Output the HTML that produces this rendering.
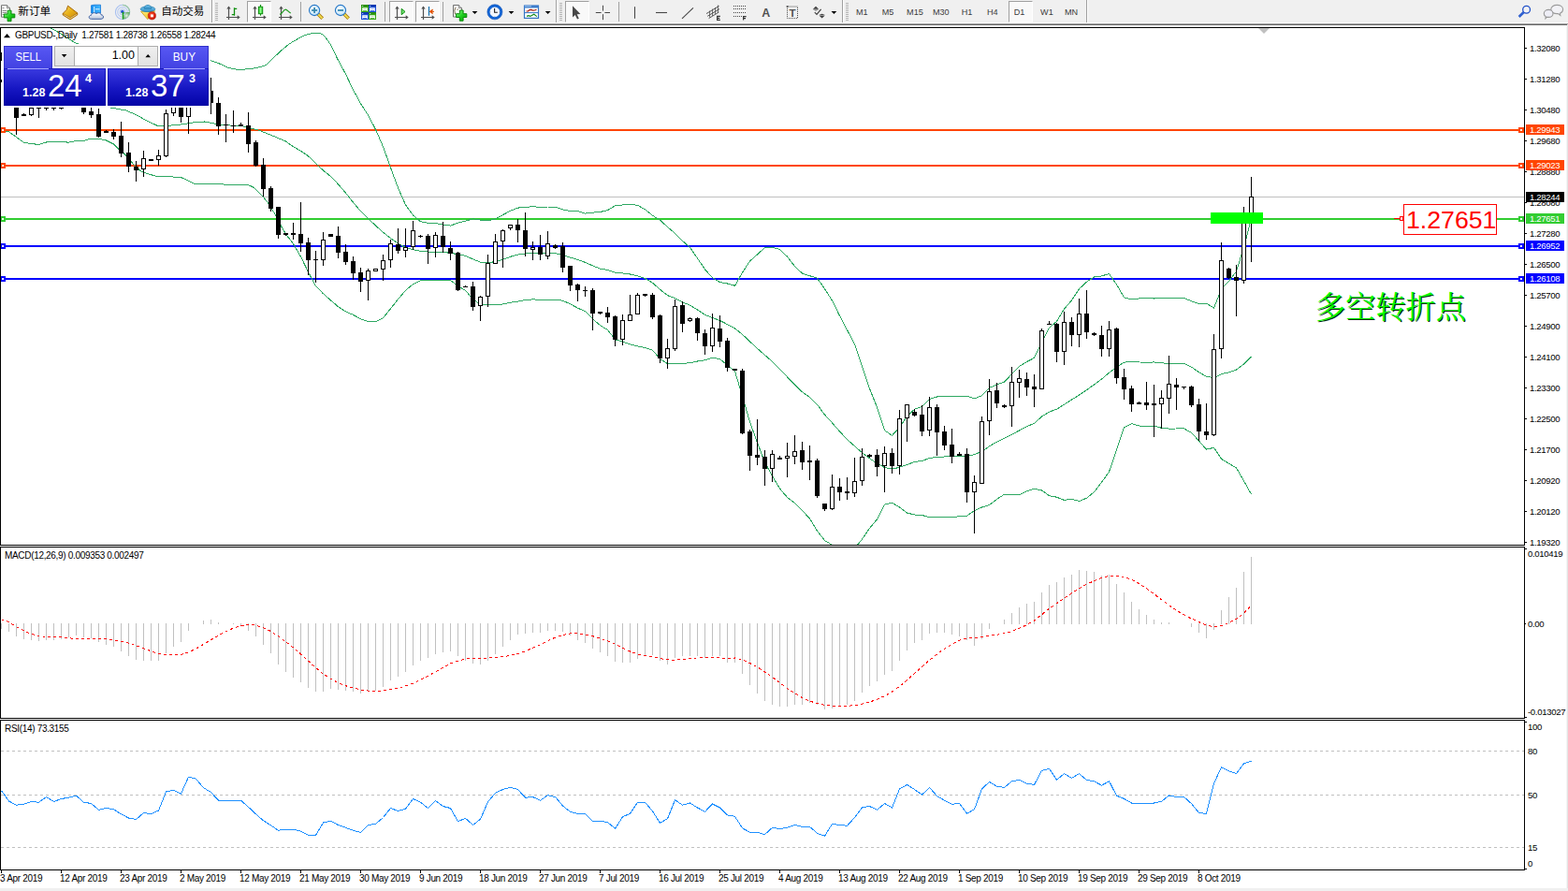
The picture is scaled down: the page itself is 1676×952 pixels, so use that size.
<!DOCTYPE html>
<html><head><meta charset="utf-8"><title>GBPUSD Daily</title>
<style>
html,body{margin:0;padding:0;background:#fff;}
body{width:1676px;height:952px;overflow:hidden;position:relative;font-family:"Liberation Sans",sans-serif;}
.abs{position:absolute;}
.t{position:absolute;white-space:nowrap;color:#000;font-size:10px;line-height:12px;letter-spacing:-0.32px}
.ax{position:absolute;white-space:nowrap;color:#000;font-size:9.6px;line-height:11px;left:1635px;letter-spacing:-0.34px}
.tag{position:absolute;left:1631px;width:41px;height:11px;color:#fff;font-size:9.6px;line-height:11px;white-space:nowrap;text-indent:4px;letter-spacing:-0.34px}
.tf{position:absolute;top:7px;font-size:9.1px;line-height:12px;color:#3c3c3c;white-space:nowrap;}
.btn{position:absolute;top:1px;height:21px;width:24px;background:#f9f9f9;border-top:1px solid #a0a0a0;border-left:1px solid #a0a0a0;border-right:1px solid #fff;border-bottom:1px solid #fff;box-sizing:content-box}
.sep{position:absolute;top:2px;width:1px;height:21px;background:#a0a0a0;}
.grip{position:absolute;top:3px;width:3px;height:19px;background:repeating-linear-gradient(to bottom,#b4b4b4 0,#b4b4b4 1px,#f0f0f0 1px,#f0f0f0 2px);}
</style></head><body>

<div class="abs" style="left:0;top:0;width:1676px;height:24px;background:#f0f0f0"></div>
<div class="abs" style="left:0;top:24px;width:1676px;height:1px;background:#fafafa"></div>
<div class="abs" style="left:0;top:25px;width:1676px;height:1px;background:#a0a0a0"></div>
<div class="abs" style="left:0;top:26px;width:1676px;height:1px;background:#696969"></div>
<div class="abs" style="left:1675px;top:26px;width:1px;height:926px;background:#e3e3e3"></div>
<div class="abs" style="left:1674px;top:27px;width:1px;height:925px;background:#f4f4f4"></div>
<div class="abs" style="left:0;top:949px;width:1676px;height:3px;background:#f0f0f0"></div>
<div class="btn" style="left:264px"></div>
<div class="btn" style="left:416px"></div>
<div class="btn" style="left:444px"></div>
<div class="btn" style="left:604px"></div>
<div class="btn" style="left:1078px"></div>
<div class="sep" style="left:321px"></div>
<div class="sep" style="left:411px"></div>
<div class="sep" style="left:473px"></div>
<div class="sep" style="left:661px"></div>
<div class="sep" style="left:226px;top:0;height:24px"></div>
<div class="sep" style="left:594px;top:0;height:24px"></div>
<div class="sep" style="left:900px;top:0;height:24px"></div>
<div class="sep" style="left:1161px;top:0;height:24px"></div>
<div class="sep" style="left:227px;background:#fff;top:0;height:24px"></div>
<div class="sep" style="left:595px;background:#fff;top:0;height:24px"></div>
<div class="sep" style="left:901px;background:#fff;top:0;height:24px"></div>
<div class="sep" style="left:1162px;background:#fff;top:0;height:24px"></div>
<div class="grip" style="left:230px"></div>
<div class="grip" style="left:598px"></div>
<div class="grip" style="left:904px"></div>
<div class="tf" style="left:915px">M1</div>
<div class="tf" style="left:942.7px">M5</div>
<div class="tf" style="left:969.1px">M15</div>
<div class="tf" style="left:996.9px">M30</div>
<div class="tf" style="left:1027.8px">H1</div>
<div class="tf" style="left:1055px">H4</div>
<div class="tf" style="left:1083.8px">D1</div>
<div class="tf" style="left:1112.1px">W1</div>
<div class="tf" style="left:1138px">MN</div>
<svg class="abs" style="left:0;top:0" width="1676" height="25" viewBox="0 0 1676 25">
<defs>
<linearGradient id="gp" x1="0" y1="0" x2="1" y2="1"><stop offset="0" stop-color="#9dff9d"/><stop offset="0.5" stop-color="#1fd11f"/><stop offset="1" stop-color="#089a08"/></linearGradient>
<linearGradient id="gold" x1="0" y1="0" x2="1" y2="1"><stop offset="0" stop-color="#f8d860"/><stop offset="0.5" stop-color="#e8b018"/><stop offset="1" stop-color="#c88810"/></linearGradient>
<linearGradient id="cloud" x1="0" y1="0" x2="0" y2="1"><stop offset="0" stop-color="#ffffff"/><stop offset="1" stop-color="#b8c6dc"/></linearGradient>
<linearGradient id="bbox" x1="0" y1="0" x2="1" y2="0"><stop offset="0" stop-color="#1890f0"/><stop offset="1" stop-color="#40b8ff"/></linearGradient>
<radialGradient id="lens" cx="0.4" cy="0.35" r="0.7"><stop offset="0" stop-color="#ffffff"/><stop offset="1" stop-color="#b8e0f8"/></radialGradient>
<linearGradient id="hat" x1="0" y1="0" x2="0" y2="1"><stop offset="0" stop-color="#7cc8f0"/><stop offset="1" stop-color="#3090c8"/></linearGradient>
<linearGradient id="face" x1="0" y1="0" x2="1" y2="1"><stop offset="0" stop-color="#fff080"/><stop offset="1" stop-color="#e8b010"/></linearGradient>
<radialGradient id="red" cx="0.4" cy="0.35" r="0.7"><stop offset="0" stop-color="#ff5030"/><stop offset="1" stop-color="#c81000"/></radialGradient>
<radialGradient id="sig" cx="0.5" cy="0.5" r="0.5"><stop offset="0" stop-color="#e8f4e8"/><stop offset="1" stop-color="#58a858"/></radialGradient>
<linearGradient id="cg" x1="0" y1="0" x2="1" y2="0"><stop offset="0" stop-color="#20c820"/><stop offset="0.5" stop-color="#90ff90"/><stop offset="1" stop-color="#20c820"/></linearGradient>
</defs>
<path d="M1.5 5.7H7.5L10.5 8.7V18.2H1.5Z" fill="#fff" stroke="#707070" stroke-width="1" stroke-linejoin="round"/><path d="M7.5 5.7V8.7H10.5" fill="#ddd" stroke="#707070" stroke-width="0.8"/>
<path d="M2.5 8.5H4.5M2.5 11.5H7M2.5 13.5H7M2.5 15.5H5" stroke="#909090" stroke-width="1"/>
<polygon points="8.1,11.2 12.0,11.2 12.0,15.0 15.8,15.0 15.8,18.9 12.0,18.9 12.0,22.7 8.1,22.7 8.1,18.9 4.3,18.9 4.3,15.0 8.1,15.0" fill="url(#gp)" stroke="#0a8a0a" stroke-width="1"/>
<text x="19.2" y="15.6" font-family="'Liberation Sans','Noto Sans CJK SC',sans-serif" font-size="11.7" fill="#000">新订单</text>
<path d="M67.2 14.6L75 19.2L82.8 14.2V15.8L75 20.9L67.2 16Z" fill="#d8a018" stroke="#a86808" stroke-width="0.9" stroke-linejoin="round"/>
<path d="M72.6 6.2L82.8 14L75 19L67.2 14.4L71.2 10.4Z" fill="url(#gold)" stroke="#a86808" stroke-width="1" stroke-linejoin="round"/>
<path d="M68.4 15.6L75 19.6L81.8 15.4" fill="none" stroke="#f4e4a0" stroke-width="0.8"/>
<path d="M97.5 5.8L100.5 5.2H107.5V14H97.5Z" fill="url(#bbox)" stroke="#1878d8" stroke-width="0.8"/>
<path d="M100.7 7V14M102 9.8H106.5" stroke="#e0f4ff" stroke-width="1" fill="none"/>
<path d="M97.5 20.3C94.5 20.3 94.3 16.6 97.5 16.3C97.8 13.6 101.5 12.8 103 14.9C104.6 12.9 108 13.8 108 15.8C111.2 15.8 111.4 20.3 108.2 20.3Z" fill="url(#cloud)" stroke="#4060a0" stroke-width="1"/>
<circle cx="131" cy="12.9" r="7.6" fill="none" stroke="#a8c0f0" stroke-width="1.1"/>
<circle cx="131" cy="12.9" r="5.3" fill="none" stroke="#b8ccf4" stroke-width="1.1"/>
<path d="M131.3 12.9L138.9 12.9A7.6 7.6 0 0 1 131.3 20.5Z" fill="url(#sig)" opacity="0.9"/>
<path d="M131 5.3A7.6 7.6 0 0 1 138.6 12.9" fill="none" stroke="#9cc8a8" stroke-width="1.2"/>
<circle cx="131" cy="12.9" r="3.1" fill="none" stroke="#b0c8f0" stroke-width="1"/>
<circle cx="130.8" cy="12.6" r="1.8" fill="#2858d0"/>
<path d="M131.4 13V20.6" stroke="#18a018" stroke-width="1.3"/>
<path d="M150.6 12.3L165.6 11.8L157.8 20.6Z" fill="url(#face)" stroke="#c89810" stroke-width="0.8" stroke-linejoin="round"/>
<ellipse cx="158" cy="9.7" rx="7.8" ry="2.9" fill="url(#hat)" stroke="#2880b0" stroke-width="0.8"/>
<path d="M154 9.2C154 4.2 162 4.2 162 9.2Z" fill="url(#hat)" stroke="#2880b0" stroke-width="0.8"/>
<circle cx="162.4" cy="16.8" r="4.1" fill="url(#red)" stroke="#b01000" stroke-width="0.6"/>
<rect x="161" y="15.4" width="2.9" height="2.9" fill="#fff"/>
<text x="172.2" y="15.6" font-family="'Liberation Sans','Noto Sans CJK SC',sans-serif" font-size="11.5" fill="#000">自动交易</text>
<path d="M244.5 7.2V21M242.0 18.5H255.5" stroke="#505050" stroke-width="1.2" fill="none"/><path d="M242.3 9.6L244.5 6.6L246.7 9.6ZM253.7 16.3L256.7 18.5L253.7 20.7Z" fill="#505050"/>
<path d="M250.5 8.2V16.8M250.5 9.4H253.2M247.8 15.6H250.5" stroke="#109010" stroke-width="1.3" fill="none"/>
<path d="M272.5 7.2V21M270.0 18.5H283.5" stroke="#505050" stroke-width="1.2" fill="none"/><path d="M270.3 9.6L272.5 6.6L274.7 9.6ZM281.7 16.3L284.7 18.5L281.7 20.7Z" fill="#505050"/>
<path d="M278.5 5V16.7" stroke="#109010" stroke-width="1.2"/><rect x="276.4" y="7.3" width="4.3" height="7.4" fill="url(#cg)" stroke="#109010" stroke-width="1"/>
<path d="M300.5 7.2V21M298.0 18.5H311.5" stroke="#505050" stroke-width="1.2" fill="none"/><path d="M298.3 9.6L300.5 6.6L302.7 9.6ZM309.7 16.3L312.7 18.5L309.7 20.7Z" fill="#505050"/>
<path d="M299.2 15.6C302 13.5 303.5 10.2 305.2 10.2C307 10.2 308.5 13.2 310.8 14" stroke="#209a20" stroke-width="1.2" fill="none"/>
<path d="M339.70000000000005 14.8L344.70000000000005 19.8" stroke="#a87808" stroke-width="3.6" stroke-linecap="butt"/><path d="M339.90000000000003 15L344.5 19.6" stroke="#f0dc50" stroke-width="2" stroke-linecap="butt"/><circle cx="336.1" cy="11" r="5.6" fill="url(#lens)" stroke="#2878c8" stroke-width="1.1"/><path d="M333.1 11H339.1" stroke="#3888b0" stroke-width="1.8"/><path d="M336.1 8V14" stroke="#3888b0" stroke-width="1.8"/>
<path d="M367.6 14.8L372.6 19.8" stroke="#a87808" stroke-width="3.6" stroke-linecap="butt"/><path d="M367.8 15L372.4 19.6" stroke="#f0dc50" stroke-width="2" stroke-linecap="butt"/><circle cx="364" cy="11" r="5.6" fill="url(#lens)" stroke="#2878c8" stroke-width="1.1"/><path d="M361 11H367" stroke="#3888b0" stroke-width="1.8"/>
<rect x="386" y="5" width="8" height="8" fill="#38a818"/><rect x="386" y="5" width="8" height="2.2" fill="#2c9010"/><rect x="387.2" y="6" width="1" height="1" fill="#d8e8ff"/><path d="M387.2 8.2H392.8V12H392V11.2H388V12H387.2Z" fill="#fff"/><path d="M388.4 9.7H391.6" stroke="#a0d890" stroke-width="0.8"/>
<rect x="394" y="5" width="8" height="8" fill="#1c50d8"/><rect x="394" y="5" width="8" height="2.2" fill="#1038b0"/><rect x="395.2" y="6" width="1" height="1" fill="#d8e8ff"/><path d="M395.2 8.2H400.8V12H400V11.2H396V12H395.2Z" fill="#fff"/><path d="M396.4 9.7H399.6" stroke="#90a8f0" stroke-width="0.8"/>
<rect x="386" y="13" width="8" height="8" fill="#1c50d8"/><rect x="386" y="13" width="8" height="2.2" fill="#1038b0"/><rect x="387.2" y="14" width="1" height="1" fill="#d8e8ff"/><path d="M387.2 16.2H392.8V20H392V19.2H388V20H387.2Z" fill="#fff"/><path d="M388.4 17.7H391.6" stroke="#90a8f0" stroke-width="0.8"/>
<rect x="394" y="13" width="8" height="8" fill="#38a818"/><rect x="394" y="13" width="8" height="2.2" fill="#2c9010"/><rect x="395.2" y="14" width="1" height="1" fill="#d8e8ff"/><path d="M395.2 16.2H400.8V20H400V19.2H396V20H395.2Z" fill="#fff"/><path d="M396.4 17.7H399.6" stroke="#a0d890" stroke-width="0.8"/>
<path d="M424.5 7.2V21M422.0 18.5H435.5" stroke="#505050" stroke-width="1.2" fill="none"/><path d="M422.3 9.6L424.5 6.6L426.7 9.6ZM433.7 16.3L436.7 18.5L433.7 20.7Z" fill="#505050"/>
<path d="M429.2 9.3L433 12.5L429.2 15.7Z" fill="#70e070" stroke="#109010" stroke-width="1"/>
<path d="M452.5 7.2V21M450.0 18.5H463.5" stroke="#505050" stroke-width="1.2" fill="none"/><path d="M450.3 9.6L452.5 6.6L454.7 9.6ZM461.7 16.3L464.7 18.5L461.7 20.7Z" fill="#505050"/>
<path d="M458.5 7V16.8" stroke="#1070b0" stroke-width="1.2"/>
<path d="M459.5 12.4H464M459.3 12.4L462.4 10.2L461.6 12.4L462.4 14.6Z" stroke="#e05000" stroke-width="1" fill="#e05000"/>
<path d="M484.5 5.5H490.5L493.5 8.5V18.0H484.5Z" fill="#fff" stroke="#707070" stroke-width="1" stroke-linejoin="round"/><path d="M490.5 5.5V8.5H493.5" fill="#ddd" stroke="#707070" stroke-width="0.8"/>
<path d="M487.5 8C485.5 8 486.8 11.5 485.6 11.8C486.8 12.1 485.5 15.6 487.5 15.6" stroke="#605030" stroke-width="0.9" fill="none"/><path d="M488.5 10.5L490 9.8" stroke="#605030" stroke-width="0.8"/>
<polygon points="491.3,11.0 495.1,11.0 495.1,14.7 498.8,14.7 498.8,18.5 495.1,18.5 495.1,22.2 491.3,22.2 491.3,18.5 487.6,18.5 487.6,14.7 491.3,14.7" fill="url(#gp)" stroke="#0a8a0a" stroke-width="1"/>
<path d="M504.6 12H510.4L507.5 15Z" fill="#000"/>
<circle cx="528.9" cy="12.8" r="6.7" fill="#f4f8ff" stroke="#1264d4" stroke-width="2.7"/>
<circle cx="528.9" cy="12.8" r="8.1" fill="none" stroke="#0c4cb0" stroke-width="0.5"/>
<path d="M528.6 9V13.2H531.8" stroke="#202020" stroke-width="1.1" fill="none"/>
<path d="M528.9 7.6v.8M528.9 17.2v.8M523.7 12.8h.8M533.3 12.8h.8M525.3 9.2l.5.5M532.5 9.2l-.5.5M525.3 16.4l.5-.5M532.5 16.4l-.5-.5" stroke="#909090" stroke-width="0.7"/>
<path d="M543.6 12H549.4L546.5 15Z" fill="#000"/>
<rect x="560.5" y="6.2" width="15" height="13.2" fill="#fff" stroke="#3474c4" stroke-width="1.2"/>
<rect x="560" y="5.7" width="16" height="2.8" fill="#3c7ccc"/><rect x="561" y="6.3" width="7" height="0.9" fill="#a8ccf0"/>
<path d="M561 13.6H575" stroke="#3474c4" stroke-width="1"/>
<path d="M562.5 12L564.5 11.8L566 10.6L568 10.4L569.5 11.2L571.5 11L573.5 10.2" stroke="#a81808" stroke-width="1.2" fill="none"/>
<path d="M563 17.4L565 16.6L566.8 17.4L568.8 16.2L570.8 15.2L572.6 16.6L573.8 17.6" stroke="#108818" stroke-width="1.2" fill="none"/>
<path d="M582.7 12H588.5L585.6 15Z" fill="#000"/>
<path d="M612 6.2V18.6L614.8 16L617 20.6L618.8 19.8L616.7 15.3L620.4 15Z" fill="#484848"/>
<path d="M644.5 5.8V11.6M644.5 15.2V21.2M636.8 13.5H642.6M646.4 13.5H652" stroke="#484848" stroke-width="1"/>
<path d="M678.5 7.2V19.8" stroke="#484848" stroke-width="1.1"/>
<path d="M701 13.5H713" stroke="#484848" stroke-width="1.1"/>
<path d="M729 19.8L741 8.3" stroke="#484848" stroke-width="1.1"/>
<path d="M755 14.6L768.6 6.4M756.2 17.3L769 9.6M757.6 19.6L768.4 13" stroke="#484848" stroke-width="0.9" fill="none"/>
<path d="M758.6 11.5V18.5M761.6 9.6V17M764.6 8V15M767.4 5.5V13.6" stroke="#484848" stroke-width="0.8" fill="none"/>
<path d="M769.8 17.4H766.6V21.4H769.8M766.6 19.4H769.2" stroke="#303030" stroke-width="1.1" fill="none"/>
<path d="M784 6.5H797" stroke="#484848" stroke-width="1" stroke-dasharray="1 1"/>
<path d="M784 9.5H797" stroke="#484848" stroke-width="1" stroke-dasharray="1 1"/>
<path d="M784 13.5H797" stroke="#484848" stroke-width="1" stroke-dasharray="1 1"/>
<path d="M784 17.5H793" stroke="#484848" stroke-width="1" stroke-dasharray="1 1"/>
<path d="M797.6 17.6H794.6V21.6M794.6 19.6H797" stroke="#303030" stroke-width="1.1" fill="none"/>
<text x="814.2" y="17.8" font-family="Liberation Sans, sans-serif" font-weight="bold" font-size="12.4" fill="#505050">A</text>
<rect x="841.5" y="7" width="11" height="12.6" fill="none" stroke="#484848" stroke-width="1" stroke-dasharray="1 1"/>
<rect x="840.6" y="6.2" width="2" height="1.4" fill="#484848"/>
<text x="843.6" y="17.8" font-family="Liberation Sans, sans-serif" font-weight="bold" font-size="11.6" fill="#505050">T</text>
<path d="M872 6.8L875.2 9.8H868.8ZM868.8 10.4H875.2L872 11.6Z" fill="#404040"/>
<path d="M878.6 19.6L875.4 16.6H881.8ZM875.4 16H881.8L878.6 14.8Z" fill="#404040"/>
<path d="M870.8 13.2L873 15.4L877.6 9.8" stroke="#404040" stroke-width="1.2" fill="none"/>
<path d="M888.5 12H894.3L891.4 15Z" fill="#000"/>
<circle cx="1631.6" cy="10.3" r="3.9" fill="#f2f2f4" stroke="#2050c8" stroke-width="1.3"/>
<path d="M1628.7 13.1L1623.6 17.9" stroke="#3060d0" stroke-width="2.7" stroke-linecap="butt"/>
<path d="M1664.2 5.4C1668 5.4 1670.6 7.4 1670.6 10C1670.6 12 1669.2 13.6 1667.4 14.2L1667.8 16.4L1665.4 14.6C1660.6 15 1657.8 12.8 1657.8 10C1657.8 7.4 1660.4 5.4 1664.2 5.4Z" fill="#f2f2f6" stroke="#9c9c9c" stroke-width="1.1"/>
<path d="M1655.2 10.4C1658 10.4 1660 12.2 1660 14.4C1660 16.6 1658 18.4 1655.2 18.4C1654.6 18.4 1654 18.3 1653.5 18.2L1652 19.8L1652.2 17.6C1651 16.8 1650.3 15.7 1650.3 14.4C1650.3 12.2 1652.4 10.4 1655.2 10.4Z" fill="#eeeef6" stroke="#989898" stroke-width="1.1"/>
</svg>
<svg class="abs" style="left:0;top:27px" width="1676" height="925" viewBox="0 27 1676 925" shape-rendering="crispEdges">
<rect x="1" y="138" width="1628" height="2" fill="#ff4500"/>
<rect x="1" y="176" width="1628" height="2" fill="#ff4500"/>
<rect x="1" y="210" width="1628" height="1" fill="#c0c0c0"/>
<rect x="1" y="233" width="1628" height="2" fill="#32cd32"/>
<rect x="1" y="262" width="1628" height="2" fill="#0000ff"/>
<rect x="1" y="297" width="1628" height="2" fill="#0000ff"/>
<g clip-path="url(#cpm)"><clipPath id="cpm"><rect x="1" y="30" width="1628" height="552"/></clipPath>
<polyline points="53.8,29.7 60.0,33.0 68.0,38.0 75.0,42.5 81.8,46.5 110.0,54.0 150.0,58.0 190.0,60.5 223.2,64.0 235.3,68.3 243.7,72.5 255.5,74.6 268.9,73.4 279.0,71.4 284.0,69.8 292.0,62.0 300.7,54.0 309.0,47.0 317.4,42.0 326.0,37.5 334.1,35.4 340.0,35.3 344.1,36.4 348.0,40.0 352.5,46.4 356.5,54.0 360.8,63.1 369.5,79.2 377.5,95.9 385.5,110.6 393.5,123.1 401.5,138.3 409.5,156.7 417.5,179.2 425.5,200.7 433.5,218.9 441.5,229.9 449.5,236.7 457.5,238.3 465.5,238.4 473.5,240.2 481.5,241.1 489.5,238.1 497.5,236.2 505.5,233.8 513.5,235.1 521.5,235.9 529.5,233.8 537.5,229.6 545.5,225.3 553.5,222.1 561.5,221.4 569.5,220.7 577.5,221.5 585.5,221.0 593.5,221.0 601.5,224.0 609.5,225.5 617.5,225.6 625.5,228.1 633.5,227.1 641.5,226.5 649.5,224.6 657.5,219.9 665.5,218.9 673.5,218.1 681.5,219.4 689.5,223.7 697.5,230.3 705.5,235.1 713.5,242.6 721.5,249.3 729.5,257.3 737.5,264.5 745.5,276.0 753.5,287.8 761.5,296.7 769.5,301.6 777.5,303.0 785.5,305.3 793.5,291.3 801.5,279.0 809.5,271.9 817.5,264.5 825.5,264.3 833.5,266.3 841.5,274.2 849.5,284.6 857.5,292.1 865.5,294.7 873.5,297.2 881.5,308.6 889.5,321.2 897.5,337.4 905.5,352.6 913.5,367.7 921.5,391.2 929.5,415.3 937.5,435.3 945.5,459.8 953.5,465.3 961.5,456.7 969.5,444.9 977.5,437.3 985.5,434.4 993.5,426.5 1001.5,424.0 1009.5,423.5 1017.5,423.3 1025.5,423.1 1033.5,423.3 1041.5,425.9 1049.5,422.7 1057.5,414.4 1065.5,410.9 1073.5,408.1 1081.5,399.6 1089.5,391.3 1097.5,386.6 1105.5,382.4 1113.5,366.2 1121.5,350.4 1129.5,343.3 1137.5,330.1 1145.5,320.9 1153.5,308.7 1161.5,301.2 1169.5,296.0 1177.5,294.9 1185.5,292.5 1193.5,303.9 1201.5,317.8 1209.5,319.9 1217.5,319.0 1225.5,318.8 1233.5,319.0 1241.5,318.4 1249.5,318.4 1257.5,318.4 1265.5,318.4 1273.5,321.7 1281.5,324.6 1289.5,324.3 1297.5,329.0 1305.5,309.0 1313.5,300.4 1321.5,290.1 1329.5,264.1 1337.5,233.7" fill="none" stroke="#2ea862" stroke-width="1"/>
<polyline points="100.0,112.0 120.2,115.4 134.5,117.9 146.2,123.0 156.3,128.8 168.0,134.2 176.5,134.7 193.3,133.0 206.7,130.9 218.5,130.0 230.3,132.2 238.7,133.5 257.0,134.7 260.0,135.0 276.8,139.2 293.6,146.0 305.5,151.0 313.5,156.8 321.5,161.2 329.5,166.8 337.5,174.6 345.5,182.1 353.5,188.5 361.5,196.8 369.5,206.1 377.5,216.2 385.5,225.7 393.5,233.4 401.5,241.1 409.5,248.2 417.5,254.5 425.5,260.2 433.5,264.6 441.5,266.7 449.5,268.2 457.5,269.0 465.5,269.0 473.5,269.7 481.5,270.2 489.5,271.8 497.5,273.3 505.5,276.9 513.5,280.1 521.5,280.7 529.5,279.6 537.5,277.3 545.5,274.3 553.5,272.1 561.5,271.0 569.5,270.3 577.5,270.9 585.5,270.6 593.5,270.6 601.5,272.6 609.5,275.1 617.5,277.4 625.5,280.4 633.5,283.9 641.5,287.1 649.5,288.5 657.5,291.3 665.5,292.0 673.5,293.0 681.5,294.7 689.5,297.5 697.5,302.2 705.5,309.3 713.5,315.6 721.5,318.7 729.5,322.8 737.5,326.2 745.5,331.0 753.5,336.3 761.5,339.5 769.5,342.5 777.5,346.6 785.5,350.9 793.5,357.3 801.5,364.9 809.5,372.4 817.5,379.3 825.5,386.4 833.5,394.2 841.5,402.8 849.5,411.1 857.5,418.8 865.5,424.4 873.5,432.2 881.5,443.1 889.5,451.8 897.5,461.0 905.5,469.5 913.5,476.7 921.5,483.6 929.5,489.8 937.5,495.1 945.5,499.5 953.5,501.2 961.5,499.3 969.5,496.4 977.5,493.6 985.5,492.4 993.5,489.6 1001.5,488.3 1009.5,488.0 1017.5,487.8 1025.5,487.5 1033.5,487.3 1041.5,485.8 1049.5,482.3 1057.5,476.9 1065.5,472.1 1073.5,468.2 1081.5,464.2 1089.5,460.0 1097.5,455.7 1105.5,452.3 1113.5,445.1 1121.5,440.1 1129.5,437.2 1137.5,432.2 1145.5,427.1 1153.5,422.1 1161.5,416.7 1169.5,410.9 1177.5,405.1 1185.5,398.3 1193.5,392.2 1201.5,387.2 1209.5,386.3 1217.5,387.0 1225.5,387.1 1233.5,387.0 1241.5,387.9 1249.5,388.2 1257.5,388.2 1265.5,388.1 1273.5,392.1 1281.5,397.8 1289.5,402.2 1297.5,403.7 1305.5,399.7 1313.5,397.8 1321.5,395.1 1329.5,389.0 1337.5,380.9" fill="none" stroke="#2ea862" stroke-width="1"/>
<polyline points="1.0,139.5 6.0,140.0 9.5,140.8 17.5,146.5 25.5,152.3 33.5,153.6 41.5,154.4 49.5,152.0 57.5,151.4 65.5,151.4 73.5,152.2 81.5,150.4 89.5,150.3 97.5,148.2 105.5,148.2 113.5,150.0 121.5,154.0 127.7,160.0 134.5,165.8 142.9,175.9 151.3,183.5 166.4,188.2 193.3,189.4 208.4,196.5 238.7,197.0 257.1,197.6 265.0,197.4 271.8,200.6 280.2,209.0 286.9,217.4 293.6,228.3 302.0,244.3 305.5,250.0 313.5,260.6 321.5,274.2 329.5,290.7 337.5,305.6 345.5,313.8 353.5,320.9 361.5,327.7 369.5,332.9 377.5,336.4 385.5,340.8 393.5,343.7 401.5,343.8 409.5,339.7 417.5,329.8 425.5,319.7 433.5,310.2 441.5,303.6 449.5,299.8 457.5,299.6 465.5,299.6 473.5,299.2 481.5,299.4 489.5,305.6 497.5,310.3 505.5,319.9 513.5,325.1 521.5,325.4 529.5,325.4 537.5,325.0 545.5,323.3 553.5,322.1 561.5,320.6 569.5,319.9 577.5,320.3 585.5,320.2 593.5,320.2 601.5,321.2 609.5,324.8 617.5,329.1 625.5,332.6 633.5,340.7 641.5,347.7 649.5,352.5 657.5,362.7 665.5,365.1 673.5,367.8 681.5,369.9 689.5,371.4 697.5,374.1 705.5,383.5 713.5,388.6 721.5,388.1 729.5,388.3 737.5,387.8 745.5,386.0 753.5,384.7 761.5,382.3 769.5,383.5 777.5,390.3 785.5,396.5 793.5,423.3 801.5,450.8 809.5,472.9 817.5,494.1 825.5,508.6 833.5,522.1 841.5,531.4 849.5,537.6 857.5,545.6 865.5,554.0 873.5,567.3 881.5,577.5 889.5,582.3 897.5,584.6 905.5,586.4 913.5,585.8 921.5,576.1 929.5,564.4 937.5,554.9 945.5,539.2 953.5,537.2 961.5,541.9 969.5,548.0 977.5,550.0 985.5,550.4 993.5,552.8 1001.5,552.7 1009.5,552.6 1017.5,552.2 1025.5,551.9 1033.5,551.2 1041.5,545.6 1049.5,542.0 1057.5,539.5 1065.5,533.4 1073.5,528.2 1081.5,528.7 1089.5,528.6 1097.5,524.8 1105.5,522.2 1113.5,523.9 1121.5,529.7 1129.5,531.2 1137.5,534.4 1145.5,533.3 1153.5,535.5 1161.5,532.2 1169.5,525.7 1177.5,515.3 1185.5,504.1 1193.5,480.5 1201.5,456.6 1209.5,452.7 1217.5,455.0 1225.5,455.4 1233.5,455.0 1241.5,457.3 1249.5,458.1 1257.5,458.0 1265.5,457.8 1273.5,462.5 1281.5,471.0 1289.5,480.2 1297.5,478.3 1305.5,490.4 1313.5,495.2 1321.5,500.0 1329.5,513.9 1337.5,528.1" fill="none" stroke="#2ea862" stroke-width="1"/>
<rect x="17" y="115" width="1" height="29" fill="#000"/>
<rect x="15" y="115" width="5" height="11" fill="#000"/>
<rect x="25" y="121" width="1" height="3" fill="#000"/>
<rect x="23" y="122" width="5" height="2" fill="#000"/>
<rect x="33" y="115" width="1" height="9" fill="#000"/>
<rect x="31" y="115" width="5" height="8" fill="#000"/><rect x="32" y="116" width="3" height="6" fill="#fff"/>
<rect x="41" y="115" width="1" height="11" fill="#000"/>
<rect x="39" y="115" width="5" height="1" fill="#000"/>
<rect x="49" y="115" width="1" height="3" fill="#000"/>
<rect x="47" y="115" width="5" height="1" fill="#000"/>
<rect x="57" y="115" width="1" height="3" fill="#000"/>
<rect x="55" y="115" width="5" height="1" fill="#000"/>
<rect x="65" y="115" width="1" height="2" fill="#000"/>
<rect x="63" y="115" width="5" height="1" fill="#000"/>
<rect x="89" y="115" width="1" height="7" fill="#000"/>
<rect x="87" y="115" width="5" height="5" fill="#000"/>
<rect x="97" y="115" width="1" height="11" fill="#000"/>
<rect x="95" y="119" width="5" height="4" fill="#000"/>
<rect x="105" y="116" width="1" height="31" fill="#000"/>
<rect x="103" y="122" width="5" height="24" fill="#000"/>
<rect x="113" y="139" width="1" height="3" fill="#000"/>
<rect x="111" y="140" width="5" height="2" fill="#000"/>
<rect x="121" y="138" width="1" height="11" fill="#000"/>
<rect x="119" y="141" width="5" height="5" fill="#000"/>
<rect x="129" y="130" width="1" height="38" fill="#000"/>
<rect x="127" y="145" width="5" height="19" fill="#000"/>
<rect x="137" y="152" width="1" height="32" fill="#000"/>
<rect x="135" y="163" width="5" height="15" fill="#000"/>
<rect x="145" y="172" width="1" height="22" fill="#000"/>
<rect x="143" y="178" width="5" height="4" fill="#000"/>
<rect x="153" y="161" width="1" height="28" fill="#000"/>
<rect x="151" y="169" width="5" height="12" fill="#000"/><rect x="152" y="170" width="3" height="10" fill="#fff"/>
<rect x="161" y="170" width="1" height="2" fill="#000"/>
<rect x="159" y="170" width="5" height="2" fill="#000"/>
<rect x="169" y="160" width="1" height="17" fill="#000"/>
<rect x="167" y="166" width="5" height="5" fill="#000"/><rect x="168" y="167" width="3" height="3" fill="#fff"/>
<rect x="177" y="117" width="1" height="51" fill="#000"/>
<rect x="175" y="121" width="5" height="46" fill="#000"/><rect x="176" y="122" width="3" height="44" fill="#fff"/>
<rect x="185" y="100" width="1" height="24" fill="#000"/>
<rect x="183" y="106" width="5" height="15" fill="#000"/><rect x="184" y="107" width="3" height="13" fill="#fff"/>
<rect x="193" y="104" width="1" height="27" fill="#000"/>
<rect x="191" y="108" width="5" height="17" fill="#000"/>
<rect x="201" y="100" width="1" height="43" fill="#000"/>
<rect x="199" y="104" width="5" height="21" fill="#000"/><rect x="200" y="105" width="3" height="19" fill="#fff"/>
<rect x="209" y="90" width="1" height="20" fill="#000"/>
<rect x="207" y="95" width="5" height="10" fill="#000"/><rect x="208" y="96" width="3" height="8" fill="#fff"/>
<rect x="217" y="85" width="1" height="23" fill="#000"/>
<rect x="215" y="90" width="5" height="10" fill="#000"/><rect x="216" y="91" width="3" height="8" fill="#fff"/>
<rect x="225" y="83" width="1" height="39" fill="#000"/>
<rect x="223" y="97" width="5" height="13" fill="#000"/>
<rect x="233" y="104" width="1" height="40" fill="#000"/>
<rect x="231" y="110" width="5" height="25" fill="#000"/>
<rect x="241" y="122" width="1" height="30" fill="#000"/>
<rect x="239" y="133" width="5" height="1" fill="#000"/>
<rect x="249" y="118" width="1" height="24" fill="#000"/>
<rect x="247" y="134" width="5" height="1" fill="#000"/>
<rect x="257" y="131" width="1" height="4" fill="#000"/>
<rect x="255" y="133" width="5" height="2" fill="#000"/>
<rect x="265" y="120" width="1" height="43" fill="#000"/>
<rect x="263" y="134" width="5" height="20" fill="#000"/>
<rect x="273" y="150" width="1" height="28" fill="#000"/>
<rect x="271" y="152" width="5" height="25" fill="#000"/>
<rect x="281" y="169" width="1" height="41" fill="#000"/>
<rect x="279" y="176" width="5" height="26" fill="#000"/>
<rect x="289" y="199" width="1" height="27" fill="#000"/>
<rect x="287" y="201" width="5" height="22" fill="#000"/>
<rect x="297" y="221" width="1" height="34" fill="#000"/>
<rect x="295" y="221" width="5" height="30" fill="#000"/>
<rect x="305" y="249" width="1" height="3" fill="#000"/>
<rect x="303" y="249" width="5" height="2" fill="#000"/>
<rect x="313" y="238" width="1" height="18" fill="#000"/>
<rect x="311" y="249" width="5" height="2" fill="#000"/>
<rect x="321" y="216" width="1" height="53" fill="#000"/>
<rect x="319" y="250" width="5" height="10" fill="#000"/>
<rect x="329" y="254" width="1" height="40" fill="#000"/>
<rect x="327" y="259" width="5" height="19" fill="#000"/>
<rect x="337" y="268" width="1" height="34" fill="#000"/>
<rect x="335" y="277" width="5" height="1" fill="#000"/>
<rect x="345" y="248" width="1" height="36" fill="#000"/>
<rect x="343" y="256" width="5" height="22" fill="#000"/><rect x="344" y="257" width="3" height="20" fill="#fff"/>
<rect x="353" y="250" width="1" height="3" fill="#000"/>
<rect x="351" y="250" width="5" height="3" fill="#000"/>
<rect x="361" y="242" width="1" height="34" fill="#000"/>
<rect x="359" y="252" width="5" height="18" fill="#000"/>
<rect x="369" y="261" width="1" height="22" fill="#000"/>
<rect x="367" y="269" width="5" height="11" fill="#000"/>
<rect x="377" y="274" width="1" height="25" fill="#000"/>
<rect x="375" y="279" width="5" height="13" fill="#000"/>
<rect x="385" y="286" width="1" height="26" fill="#000"/>
<rect x="383" y="291" width="5" height="10" fill="#000"/>
<rect x="393" y="287" width="1" height="34" fill="#000"/>
<rect x="391" y="289" width="5" height="11" fill="#000"/><rect x="392" y="290" width="3" height="9" fill="#fff"/>
<rect x="401" y="287" width="1" height="3" fill="#000"/>
<rect x="399" y="287" width="5" height="3" fill="#000"/><rect x="400" y="288" width="3" height="1" fill="#fff"/>
<rect x="409" y="272" width="1" height="28" fill="#000"/>
<rect x="407" y="278" width="5" height="10" fill="#000"/><rect x="408" y="279" width="3" height="8" fill="#fff"/>
<rect x="417" y="256" width="1" height="30" fill="#000"/>
<rect x="415" y="260" width="5" height="18" fill="#000"/><rect x="416" y="261" width="3" height="16" fill="#fff"/>
<rect x="425" y="244" width="1" height="27" fill="#000"/>
<rect x="423" y="261" width="5" height="7" fill="#000"/>
<rect x="433" y="244" width="1" height="31" fill="#000"/>
<rect x="431" y="264" width="5" height="4" fill="#000"/><rect x="432" y="265" width="3" height="2" fill="#fff"/>
<rect x="441" y="236" width="1" height="31" fill="#000"/>
<rect x="439" y="246" width="5" height="18" fill="#000"/><rect x="440" y="247" width="3" height="16" fill="#fff"/>
<rect x="449" y="251" width="1" height="3" fill="#000"/>
<rect x="447" y="252" width="5" height="1" fill="#000"/>
<rect x="457" y="250" width="1" height="32" fill="#000"/>
<rect x="455" y="252" width="5" height="14" fill="#000"/>
<rect x="465" y="248" width="1" height="27" fill="#000"/>
<rect x="463" y="251" width="5" height="14" fill="#000"/><rect x="464" y="252" width="3" height="12" fill="#fff"/>
<rect x="473" y="237" width="1" height="33" fill="#000"/>
<rect x="471" y="252" width="5" height="12" fill="#000"/>
<rect x="481" y="258" width="1" height="20" fill="#000"/>
<rect x="479" y="265" width="5" height="6" fill="#000"/>
<rect x="489" y="269" width="1" height="42" fill="#000"/>
<rect x="487" y="270" width="5" height="40" fill="#000"/>
<rect x="497" y="305" width="1" height="2" fill="#000"/>
<rect x="495" y="306" width="5" height="1" fill="#000"/>
<rect x="505" y="301" width="1" height="31" fill="#000"/>
<rect x="503" y="306" width="5" height="22" fill="#000"/>
<rect x="513" y="316" width="1" height="27" fill="#000"/>
<rect x="511" y="317" width="5" height="10" fill="#000"/><rect x="512" y="318" width="3" height="8" fill="#fff"/>
<rect x="521" y="272" width="1" height="56" fill="#000"/>
<rect x="519" y="281" width="5" height="36" fill="#000"/><rect x="520" y="282" width="3" height="34" fill="#fff"/>
<rect x="529" y="250" width="1" height="32" fill="#000"/>
<rect x="527" y="258" width="5" height="24" fill="#000"/><rect x="528" y="259" width="3" height="22" fill="#fff"/>
<rect x="537" y="245" width="1" height="41" fill="#000"/>
<rect x="535" y="246" width="5" height="12" fill="#000"/><rect x="536" y="247" width="3" height="10" fill="#fff"/>
<rect x="545" y="240" width="1" height="6" fill="#000"/>
<rect x="543" y="240" width="5" height="4" fill="#000"/><rect x="544" y="241" width="3" height="2" fill="#fff"/>
<rect x="553" y="234" width="1" height="25" fill="#000"/>
<rect x="551" y="240" width="5" height="6" fill="#000"/>
<rect x="561" y="227" width="1" height="47" fill="#000"/>
<rect x="559" y="246" width="5" height="20" fill="#000"/>
<rect x="569" y="258" width="1" height="20" fill="#000"/>
<rect x="567" y="264" width="5" height="3" fill="#000"/><rect x="568" y="265" width="3" height="1" fill="#fff"/>
<rect x="577" y="251" width="1" height="27" fill="#000"/>
<rect x="575" y="264" width="5" height="8" fill="#000"/>
<rect x="585" y="247" width="1" height="30" fill="#000"/>
<rect x="583" y="260" width="5" height="14" fill="#000"/><rect x="584" y="261" width="3" height="12" fill="#fff"/>
<rect x="593" y="261" width="1" height="5" fill="#000"/>
<rect x="591" y="262" width="5" height="3" fill="#000"/>
<rect x="601" y="259" width="1" height="32" fill="#000"/>
<rect x="599" y="263" width="5" height="23" fill="#000"/>
<rect x="609" y="284" width="1" height="27" fill="#000"/>
<rect x="607" y="284" width="5" height="21" fill="#000"/>
<rect x="617" y="303" width="1" height="19" fill="#000"/>
<rect x="615" y="304" width="5" height="6" fill="#000"/>
<rect x="625" y="306" width="1" height="11" fill="#000"/>
<rect x="623" y="310" width="5" height="1" fill="#000"/>
<rect x="633" y="308" width="1" height="45" fill="#000"/>
<rect x="631" y="310" width="5" height="25" fill="#000"/>
<rect x="641" y="333" width="1" height="3" fill="#000"/>
<rect x="639" y="333" width="5" height="2" fill="#000"/>
<rect x="649" y="328" width="1" height="17" fill="#000"/>
<rect x="647" y="334" width="5" height="5" fill="#000"/>
<rect x="657" y="337" width="1" height="33" fill="#000"/>
<rect x="655" y="338" width="5" height="25" fill="#000"/>
<rect x="665" y="336" width="1" height="33" fill="#000"/>
<rect x="663" y="342" width="5" height="21" fill="#000"/><rect x="664" y="343" width="3" height="19" fill="#fff"/>
<rect x="673" y="315" width="1" height="28" fill="#000"/>
<rect x="671" y="336" width="5" height="7" fill="#000"/><rect x="672" y="337" width="3" height="5" fill="#fff"/>
<rect x="681" y="313" width="1" height="23" fill="#000"/>
<rect x="679" y="315" width="5" height="21" fill="#000"/><rect x="680" y="316" width="3" height="19" fill="#fff"/>
<rect x="689" y="314" width="1" height="3" fill="#000"/>
<rect x="687" y="314" width="5" height="2" fill="#000"/>
<rect x="697" y="313" width="1" height="28" fill="#000"/>
<rect x="695" y="315" width="5" height="24" fill="#000"/>
<rect x="705" y="336" width="1" height="52" fill="#000"/>
<rect x="703" y="337" width="5" height="46" fill="#000"/>
<rect x="713" y="362" width="1" height="32" fill="#000"/>
<rect x="711" y="372" width="5" height="11" fill="#000"/><rect x="712" y="373" width="3" height="9" fill="#fff"/>
<rect x="721" y="320" width="1" height="55" fill="#000"/>
<rect x="719" y="327" width="5" height="46" fill="#000"/><rect x="720" y="328" width="3" height="44" fill="#fff"/>
<rect x="729" y="322" width="1" height="33" fill="#000"/>
<rect x="727" y="326" width="5" height="20" fill="#000"/>
<rect x="737" y="339" width="1" height="5" fill="#000"/>
<rect x="735" y="340" width="5" height="3" fill="#000"/><rect x="736" y="341" width="3" height="1" fill="#fff"/>
<rect x="745" y="339" width="1" height="25" fill="#000"/>
<rect x="743" y="340" width="5" height="16" fill="#000"/>
<rect x="753" y="352" width="1" height="27" fill="#000"/>
<rect x="751" y="356" width="5" height="14" fill="#000"/>
<rect x="761" y="335" width="1" height="41" fill="#000"/>
<rect x="759" y="350" width="5" height="20" fill="#000"/><rect x="760" y="351" width="3" height="18" fill="#fff"/>
<rect x="769" y="337" width="1" height="34" fill="#000"/>
<rect x="767" y="351" width="5" height="14" fill="#000"/>
<rect x="777" y="361" width="1" height="36" fill="#000"/>
<rect x="775" y="364" width="5" height="29" fill="#000"/>
<rect x="785" y="394" width="1" height="2" fill="#000"/>
<rect x="783" y="394" width="5" height="2" fill="#000"/>
<rect x="793" y="394" width="1" height="70" fill="#000"/>
<rect x="791" y="396" width="5" height="67" fill="#000"/>
<rect x="801" y="459" width="1" height="44" fill="#000"/>
<rect x="799" y="461" width="5" height="26" fill="#000"/>
<rect x="809" y="448" width="1" height="49" fill="#000"/>
<rect x="807" y="486" width="5" height="3" fill="#000"/>
<rect x="817" y="481" width="1" height="38" fill="#000"/>
<rect x="815" y="488" width="5" height="13" fill="#000"/>
<rect x="825" y="481" width="1" height="34" fill="#000"/>
<rect x="823" y="485" width="5" height="16" fill="#000"/><rect x="824" y="486" width="3" height="14" fill="#fff"/>
<rect x="833" y="487" width="1" height="4" fill="#000"/>
<rect x="831" y="489" width="5" height="2" fill="#000"/>
<rect x="841" y="473" width="1" height="37" fill="#000"/>
<rect x="839" y="487" width="5" height="3" fill="#000"/><rect x="840" y="488" width="3" height="1" fill="#fff"/>
<rect x="849" y="465" width="1" height="31" fill="#000"/>
<rect x="847" y="482" width="5" height="6" fill="#000"/><rect x="848" y="483" width="3" height="4" fill="#fff"/>
<rect x="857" y="472" width="1" height="30" fill="#000"/>
<rect x="855" y="481" width="5" height="13" fill="#000"/>
<rect x="865" y="476" width="1" height="37" fill="#000"/>
<rect x="863" y="492" width="5" height="2" fill="#000"/>
<rect x="873" y="490" width="1" height="42" fill="#000"/>
<rect x="871" y="492" width="5" height="38" fill="#000"/>
<rect x="881" y="538" width="1" height="8" fill="#000"/>
<rect x="879" y="538" width="5" height="6" fill="#000"/>
<rect x="889" y="507" width="1" height="38" fill="#000"/>
<rect x="887" y="520" width="5" height="24" fill="#000"/><rect x="888" y="521" width="3" height="22" fill="#fff"/>
<rect x="897" y="511" width="1" height="24" fill="#000"/>
<rect x="895" y="520" width="5" height="6" fill="#000"/>
<rect x="905" y="510" width="1" height="24" fill="#000"/>
<rect x="903" y="525" width="5" height="2" fill="#000"/>
<rect x="913" y="489" width="1" height="42" fill="#000"/>
<rect x="911" y="514" width="5" height="13" fill="#000"/><rect x="912" y="515" width="3" height="11" fill="#fff"/>
<rect x="921" y="479" width="1" height="40" fill="#000"/>
<rect x="919" y="488" width="5" height="26" fill="#000"/><rect x="920" y="489" width="3" height="24" fill="#fff"/>
<rect x="929" y="485" width="1" height="4" fill="#000"/>
<rect x="927" y="486" width="5" height="2" fill="#000"/>
<rect x="937" y="480" width="1" height="29" fill="#000"/>
<rect x="935" y="486" width="5" height="13" fill="#000"/>
<rect x="945" y="477" width="1" height="49" fill="#000"/>
<rect x="943" y="484" width="5" height="14" fill="#000"/><rect x="944" y="485" width="3" height="12" fill="#fff"/>
<rect x="953" y="479" width="1" height="27" fill="#000"/>
<rect x="951" y="484" width="5" height="14" fill="#000"/>
<rect x="961" y="438" width="1" height="69" fill="#000"/>
<rect x="959" y="447" width="5" height="51" fill="#000"/><rect x="960" y="448" width="3" height="49" fill="#fff"/>
<rect x="969" y="432" width="1" height="40" fill="#000"/>
<rect x="967" y="432" width="5" height="15" fill="#000"/><rect x="968" y="433" width="3" height="13" fill="#fff"/>
<rect x="977" y="437" width="1" height="8" fill="#000"/>
<rect x="975" y="440" width="5" height="4" fill="#000"/>
<rect x="985" y="433" width="1" height="33" fill="#000"/>
<rect x="983" y="443" width="5" height="18" fill="#000"/>
<rect x="993" y="424" width="1" height="42" fill="#000"/>
<rect x="991" y="435" width="5" height="25" fill="#000"/><rect x="992" y="436" width="3" height="23" fill="#fff"/>
<rect x="1001" y="432" width="1" height="55" fill="#000"/>
<rect x="999" y="435" width="5" height="27" fill="#000"/>
<rect x="1009" y="455" width="1" height="26" fill="#000"/>
<rect x="1007" y="461" width="5" height="15" fill="#000"/>
<rect x="1017" y="458" width="1" height="37" fill="#000"/>
<rect x="1015" y="475" width="5" height="13" fill="#000"/>
<rect x="1025" y="483" width="1" height="4" fill="#000"/>
<rect x="1023" y="485" width="5" height="2" fill="#000"/>
<rect x="1033" y="479" width="1" height="58" fill="#000"/>
<rect x="1031" y="485" width="5" height="41" fill="#000"/>
<rect x="1041" y="508" width="1" height="62" fill="#000"/>
<rect x="1039" y="515" width="5" height="11" fill="#000"/><rect x="1040" y="516" width="3" height="9" fill="#fff"/>
<rect x="1049" y="445" width="1" height="72" fill="#000"/>
<rect x="1047" y="450" width="5" height="67" fill="#000"/><rect x="1048" y="451" width="3" height="65" fill="#fff"/>
<rect x="1057" y="405" width="1" height="60" fill="#000"/>
<rect x="1055" y="418" width="5" height="32" fill="#000"/><rect x="1056" y="419" width="3" height="30" fill="#fff"/>
<rect x="1065" y="409" width="1" height="27" fill="#000"/>
<rect x="1063" y="417" width="5" height="14" fill="#000"/>
<rect x="1073" y="432" width="1" height="4" fill="#000"/>
<rect x="1071" y="433" width="5" height="2" fill="#000"/>
<rect x="1081" y="392" width="1" height="64" fill="#000"/>
<rect x="1079" y="408" width="5" height="26" fill="#000"/><rect x="1080" y="409" width="3" height="24" fill="#fff"/>
<rect x="1089" y="395" width="1" height="30" fill="#000"/>
<rect x="1087" y="404" width="5" height="5" fill="#000"/><rect x="1088" y="405" width="3" height="3" fill="#fff"/>
<rect x="1097" y="398" width="1" height="25" fill="#000"/>
<rect x="1095" y="405" width="5" height="9" fill="#000"/>
<rect x="1105" y="400" width="1" height="35" fill="#000"/>
<rect x="1103" y="413" width="5" height="3" fill="#000"/>
<rect x="1113" y="351" width="1" height="65" fill="#000"/>
<rect x="1111" y="353" width="5" height="63" fill="#000"/><rect x="1112" y="354" width="3" height="61" fill="#fff"/>
<rect x="1121" y="343" width="1" height="4" fill="#000"/>
<rect x="1119" y="346" width="5" height="1" fill="#000"/>
<rect x="1129" y="345" width="1" height="42" fill="#000"/>
<rect x="1127" y="346" width="5" height="30" fill="#000"/>
<rect x="1137" y="333" width="1" height="57" fill="#000"/>
<rect x="1135" y="344" width="5" height="32" fill="#000"/><rect x="1136" y="345" width="3" height="30" fill="#fff"/>
<rect x="1145" y="339" width="1" height="31" fill="#000"/>
<rect x="1143" y="344" width="5" height="14" fill="#000"/>
<rect x="1153" y="319" width="1" height="52" fill="#000"/>
<rect x="1151" y="335" width="5" height="23" fill="#000"/><rect x="1152" y="336" width="3" height="21" fill="#fff"/>
<rect x="1161" y="310" width="1" height="52" fill="#000"/>
<rect x="1159" y="335" width="5" height="20" fill="#000"/>
<rect x="1169" y="355" width="1" height="4" fill="#000"/>
<rect x="1167" y="356" width="5" height="2" fill="#000"/>
<rect x="1177" y="348" width="1" height="33" fill="#000"/>
<rect x="1175" y="358" width="5" height="15" fill="#000"/>
<rect x="1185" y="343" width="1" height="38" fill="#000"/>
<rect x="1183" y="352" width="5" height="21" fill="#000"/><rect x="1184" y="353" width="3" height="19" fill="#fff"/>
<rect x="1193" y="350" width="1" height="60" fill="#000"/>
<rect x="1191" y="351" width="5" height="53" fill="#000"/>
<rect x="1201" y="394" width="1" height="33" fill="#000"/>
<rect x="1199" y="403" width="5" height="13" fill="#000"/>
<rect x="1209" y="412" width="1" height="28" fill="#000"/>
<rect x="1207" y="415" width="5" height="17" fill="#000"/>
<rect x="1217" y="429" width="1" height="3" fill="#000"/>
<rect x="1215" y="430" width="5" height="2" fill="#000"/>
<rect x="1225" y="408" width="1" height="30" fill="#000"/>
<rect x="1223" y="430" width="5" height="3" fill="#000"/>
<rect x="1233" y="411" width="1" height="56" fill="#000"/>
<rect x="1231" y="431" width="5" height="2" fill="#000"/>
<rect x="1241" y="417" width="1" height="41" fill="#000"/>
<rect x="1239" y="425" width="5" height="7" fill="#000"/><rect x="1240" y="426" width="3" height="5" fill="#fff"/>
<rect x="1249" y="380" width="1" height="62" fill="#000"/>
<rect x="1247" y="410" width="5" height="16" fill="#000"/><rect x="1248" y="411" width="3" height="14" fill="#fff"/>
<rect x="1257" y="404" width="1" height="34" fill="#000"/>
<rect x="1255" y="411" width="5" height="3" fill="#000"/>
<rect x="1265" y="413" width="1" height="3" fill="#000"/>
<rect x="1263" y="413" width="5" height="1" fill="#000"/>
<rect x="1273" y="412" width="1" height="23" fill="#000"/>
<rect x="1271" y="413" width="5" height="20" fill="#000"/>
<rect x="1281" y="426" width="1" height="45" fill="#000"/>
<rect x="1279" y="432" width="5" height="29" fill="#000"/>
<rect x="1289" y="431" width="1" height="39" fill="#000"/>
<rect x="1287" y="461" width="5" height="4" fill="#000"/>
<rect x="1297" y="357" width="1" height="109" fill="#000"/>
<rect x="1295" y="373" width="5" height="92" fill="#000"/><rect x="1296" y="374" width="3" height="90" fill="#fff"/>
<rect x="1305" y="259" width="1" height="124" fill="#000"/>
<rect x="1303" y="278" width="5" height="95" fill="#000"/><rect x="1304" y="279" width="3" height="93" fill="#fff"/>
<rect x="1313" y="286" width="1" height="12" fill="#000"/>
<rect x="1311" y="287" width="5" height="10" fill="#000"/>
<rect x="1321" y="283" width="1" height="55" fill="#000"/>
<rect x="1319" y="296" width="5" height="4" fill="#000"/>
<rect x="1329" y="221" width="1" height="82" fill="#000"/>
<rect x="1327" y="237" width="5" height="63" fill="#000"/><rect x="1328" y="238" width="3" height="61" fill="#fff"/>
<rect x="1337" y="189" width="1" height="91" fill="#000"/>
<rect x="1335" y="210" width="5" height="27" fill="#000"/><rect x="1336" y="211" width="3" height="25" fill="#fff"/>
<rect x="0" y="56" width="2" height="9" fill="#000"/><rect x="0" y="85" width="2" height="3" fill="#000"/>
</g>
<rect x="1294" y="227" width="56" height="12" fill="#00ff00"/>
<rect x="0" y="136" width="6" height="6" fill="#ff4500"/><rect x="2" y="138" width="2" height="2" fill="#fff"/>
<rect x="1623" y="136" width="6" height="6" fill="#ff4500"/><rect x="1625" y="138" width="2" height="2" fill="#fff"/>
<rect x="0" y="174" width="6" height="6" fill="#ff4500"/><rect x="2" y="176" width="2" height="2" fill="#fff"/>
<rect x="1623" y="174" width="6" height="6" fill="#ff4500"/><rect x="1625" y="176" width="2" height="2" fill="#fff"/>
<rect x="0" y="231" width="6" height="6" fill="#32cd32"/><rect x="2" y="233" width="2" height="2" fill="#fff"/>
<rect x="1623" y="231" width="6" height="6" fill="#32cd32"/><rect x="1625" y="233" width="2" height="2" fill="#fff"/>
<rect x="0" y="260" width="6" height="6" fill="#0000ff"/><rect x="2" y="262" width="2" height="2" fill="#fff"/>
<rect x="1623" y="260" width="6" height="6" fill="#0000ff"/><rect x="1625" y="262" width="2" height="2" fill="#fff"/>
<rect x="0" y="295" width="6" height="6" fill="#0000ff"/><rect x="2" y="297" width="2" height="2" fill="#fff"/>
<rect x="1623" y="295" width="6" height="6" fill="#0000ff"/><rect x="1625" y="297" width="2" height="2" fill="#fff"/>
<rect x="1490" y="233" width="10" height="1" fill="#ff0000"/>
<rect x="1496.5" y="231.5" width="3" height="4" fill="#fff" stroke="#ff0000" stroke-width="1"/>
<rect x="1500.5" y="218.5" width="99" height="32" fill="#fff" stroke="#ff0000" stroke-width="1"/>
<rect x="1" y="666" width="1" height="6" fill="#c0c0c0"/>
<rect x="9" y="666" width="1" height="9" fill="#c0c0c0"/>
<rect x="17" y="666" width="1" height="14" fill="#c0c0c0"/>
<rect x="25" y="666" width="1" height="17" fill="#c0c0c0"/>
<rect x="33" y="666" width="1" height="18" fill="#c0c0c0"/>
<rect x="41" y="666" width="1" height="19" fill="#c0c0c0"/>
<rect x="49" y="666" width="1" height="18" fill="#c0c0c0"/>
<rect x="57" y="666" width="1" height="18" fill="#c0c0c0"/>
<rect x="65" y="666" width="1" height="17" fill="#c0c0c0"/>
<rect x="73" y="666" width="1" height="15" fill="#c0c0c0"/>
<rect x="81" y="666" width="1" height="13" fill="#c0c0c0"/>
<rect x="89" y="666" width="1" height="15" fill="#c0c0c0"/>
<rect x="97" y="666" width="1" height="16" fill="#c0c0c0"/>
<rect x="105" y="666" width="1" height="20" fill="#c0c0c0"/>
<rect x="113" y="666" width="1" height="23" fill="#c0c0c0"/>
<rect x="121" y="666" width="1" height="25" fill="#c0c0c0"/>
<rect x="129" y="666" width="1" height="30" fill="#c0c0c0"/>
<rect x="137" y="666" width="1" height="35" fill="#c0c0c0"/>
<rect x="145" y="666" width="1" height="39" fill="#c0c0c0"/>
<rect x="153" y="666" width="1" height="40" fill="#c0c0c0"/>
<rect x="161" y="666" width="1" height="40" fill="#c0c0c0"/>
<rect x="169" y="666" width="1" height="40" fill="#c0c0c0"/>
<rect x="177" y="666" width="1" height="32" fill="#c0c0c0"/>
<rect x="185" y="666" width="1" height="25" fill="#c0c0c0"/>
<rect x="193" y="666" width="1" height="20" fill="#c0c0c0"/>
<rect x="201" y="666" width="1" height="8" fill="#c0c0c0"/>
<rect x="217" y="663" width="1" height="4" fill="#c0c0c0"/>
<rect x="225" y="662" width="1" height="5" fill="#c0c0c0"/>
<rect x="233" y="665" width="1" height="2" fill="#c0c0c0"/>
<rect x="249" y="666" width="1" height="1" fill="#c0c0c0"/>
<rect x="257" y="666" width="1" height="3" fill="#c0c0c0"/>
<rect x="265" y="666" width="1" height="8" fill="#c0c0c0"/>
<rect x="273" y="666" width="1" height="14" fill="#c0c0c0"/>
<rect x="281" y="666" width="1" height="23" fill="#c0c0c0"/>
<rect x="289" y="666" width="1" height="32" fill="#c0c0c0"/>
<rect x="297" y="666" width="1" height="44" fill="#c0c0c0"/>
<rect x="305" y="666" width="1" height="52" fill="#c0c0c0"/>
<rect x="313" y="666" width="1" height="58" fill="#c0c0c0"/>
<rect x="321" y="666" width="1" height="63" fill="#c0c0c0"/>
<rect x="329" y="666" width="1" height="69" fill="#c0c0c0"/>
<rect x="337" y="666" width="1" height="73" fill="#c0c0c0"/>
<rect x="345" y="666" width="1" height="73" fill="#c0c0c0"/>
<rect x="353" y="666" width="1" height="70" fill="#c0c0c0"/>
<rect x="361" y="666" width="1" height="71" fill="#c0c0c0"/>
<rect x="369" y="666" width="1" height="72" fill="#c0c0c0"/>
<rect x="377" y="666" width="1" height="73" fill="#c0c0c0"/>
<rect x="385" y="666" width="1" height="75" fill="#c0c0c0"/>
<rect x="393" y="666" width="1" height="73" fill="#c0c0c0"/>
<rect x="401" y="666" width="1" height="72" fill="#c0c0c0"/>
<rect x="409" y="666" width="1" height="68" fill="#c0c0c0"/>
<rect x="417" y="666" width="1" height="61" fill="#c0c0c0"/>
<rect x="425" y="666" width="1" height="57" fill="#c0c0c0"/>
<rect x="433" y="666" width="1" height="52" fill="#c0c0c0"/>
<rect x="441" y="666" width="1" height="45" fill="#c0c0c0"/>
<rect x="449" y="666" width="1" height="40" fill="#c0c0c0"/>
<rect x="457" y="666" width="1" height="37" fill="#c0c0c0"/>
<rect x="465" y="666" width="1" height="33" fill="#c0c0c0"/>
<rect x="473" y="666" width="1" height="31" fill="#c0c0c0"/>
<rect x="481" y="666" width="1" height="30" fill="#c0c0c0"/>
<rect x="489" y="666" width="1" height="35" fill="#c0c0c0"/>
<rect x="497" y="666" width="1" height="40" fill="#c0c0c0"/>
<rect x="505" y="666" width="1" height="43" fill="#c0c0c0"/>
<rect x="513" y="666" width="1" height="44" fill="#c0c0c0"/>
<rect x="521" y="666" width="1" height="40" fill="#c0c0c0"/>
<rect x="529" y="666" width="1" height="33" fill="#c0c0c0"/>
<rect x="537" y="666" width="1" height="25" fill="#c0c0c0"/>
<rect x="545" y="666" width="1" height="18" fill="#c0c0c0"/>
<rect x="553" y="666" width="1" height="12" fill="#c0c0c0"/>
<rect x="561" y="666" width="1" height="11" fill="#c0c0c0"/>
<rect x="569" y="666" width="1" height="10" fill="#c0c0c0"/>
<rect x="577" y="666" width="1" height="10" fill="#c0c0c0"/>
<rect x="585" y="666" width="1" height="8" fill="#c0c0c0"/>
<rect x="593" y="666" width="1" height="8" fill="#c0c0c0"/>
<rect x="601" y="666" width="1" height="9" fill="#c0c0c0"/>
<rect x="609" y="666" width="1" height="13" fill="#c0c0c0"/>
<rect x="617" y="666" width="1" height="18" fill="#c0c0c0"/>
<rect x="625" y="666" width="1" height="21" fill="#c0c0c0"/>
<rect x="633" y="666" width="1" height="27" fill="#c0c0c0"/>
<rect x="641" y="666" width="1" height="31" fill="#c0c0c0"/>
<rect x="649" y="666" width="1" height="35" fill="#c0c0c0"/>
<rect x="657" y="666" width="1" height="41" fill="#c0c0c0"/>
<rect x="665" y="666" width="1" height="42" fill="#c0c0c0"/>
<rect x="673" y="666" width="1" height="42" fill="#c0c0c0"/>
<rect x="681" y="666" width="1" height="38" fill="#c0c0c0"/>
<rect x="689" y="666" width="1" height="35" fill="#c0c0c0"/>
<rect x="697" y="666" width="1" height="34" fill="#c0c0c0"/>
<rect x="705" y="666" width="1" height="40" fill="#c0c0c0"/>
<rect x="713" y="666" width="1" height="44" fill="#c0c0c0"/>
<rect x="721" y="666" width="1" height="37" fill="#c0c0c0"/>
<rect x="729" y="666" width="1" height="35" fill="#c0c0c0"/>
<rect x="737" y="666" width="1" height="35" fill="#c0c0c0"/>
<rect x="745" y="666" width="1" height="35" fill="#c0c0c0"/>
<rect x="753" y="666" width="1" height="37" fill="#c0c0c0"/>
<rect x="761" y="666" width="1" height="35" fill="#c0c0c0"/>
<rect x="769" y="666" width="1" height="35" fill="#c0c0c0"/>
<rect x="777" y="666" width="1" height="42" fill="#c0c0c0"/>
<rect x="785" y="666" width="1" height="42" fill="#c0c0c0"/>
<rect x="793" y="666" width="1" height="54" fill="#c0c0c0"/>
<rect x="801" y="666" width="1" height="66" fill="#c0c0c0"/>
<rect x="809" y="666" width="1" height="75" fill="#c0c0c0"/>
<rect x="817" y="666" width="1" height="83" fill="#c0c0c0"/>
<rect x="825" y="666" width="1" height="87" fill="#c0c0c0"/>
<rect x="833" y="666" width="1" height="89" fill="#c0c0c0"/>
<rect x="841" y="666" width="1" height="89" fill="#c0c0c0"/>
<rect x="849" y="666" width="1" height="87" fill="#c0c0c0"/>
<rect x="857" y="666" width="1" height="87" fill="#c0c0c0"/>
<rect x="865" y="666" width="1" height="85" fill="#c0c0c0"/>
<rect x="873" y="666" width="1" height="87" fill="#c0c0c0"/>
<rect x="881" y="666" width="1" height="92" fill="#c0c0c0"/>
<rect x="889" y="666" width="1" height="91" fill="#c0c0c0"/>
<rect x="897" y="666" width="1" height="88" fill="#c0c0c0"/>
<rect x="905" y="666" width="1" height="87" fill="#c0c0c0"/>
<rect x="913" y="666" width="1" height="83" fill="#c0c0c0"/>
<rect x="921" y="666" width="1" height="74" fill="#c0c0c0"/>
<rect x="929" y="666" width="1" height="67" fill="#c0c0c0"/>
<rect x="937" y="666" width="1" height="62" fill="#c0c0c0"/>
<rect x="945" y="666" width="1" height="55" fill="#c0c0c0"/>
<rect x="953" y="666" width="1" height="51" fill="#c0c0c0"/>
<rect x="961" y="666" width="1" height="40" fill="#c0c0c0"/>
<rect x="969" y="666" width="1" height="29" fill="#c0c0c0"/>
<rect x="977" y="666" width="1" height="21" fill="#c0c0c0"/>
<rect x="985" y="666" width="1" height="18" fill="#c0c0c0"/>
<rect x="993" y="666" width="1" height="11" fill="#c0c0c0"/>
<rect x="1001" y="666" width="1" height="10" fill="#c0c0c0"/>
<rect x="1009" y="666" width="1" height="10" fill="#c0c0c0"/>
<rect x="1017" y="666" width="1" height="12" fill="#c0c0c0"/>
<rect x="1025" y="666" width="1" height="14" fill="#c0c0c0"/>
<rect x="1033" y="666" width="1" height="18" fill="#c0c0c0"/>
<rect x="1041" y="666" width="1" height="24" fill="#c0c0c0"/>
<rect x="1049" y="666" width="1" height="17" fill="#c0c0c0"/>
<rect x="1057" y="666" width="1" height="6" fill="#c0c0c0"/>
<rect x="1073" y="662" width="1" height="5" fill="#c0c0c0"/>
<rect x="1081" y="655" width="1" height="12" fill="#c0c0c0"/>
<rect x="1089" y="649" width="1" height="18" fill="#c0c0c0"/>
<rect x="1097" y="645" width="1" height="22" fill="#c0c0c0"/>
<rect x="1105" y="643" width="1" height="24" fill="#c0c0c0"/>
<rect x="1113" y="633" width="1" height="34" fill="#c0c0c0"/>
<rect x="1121" y="625" width="1" height="42" fill="#c0c0c0"/>
<rect x="1129" y="622" width="1" height="45" fill="#c0c0c0"/>
<rect x="1137" y="617" width="1" height="50" fill="#c0c0c0"/>
<rect x="1145" y="614" width="1" height="53" fill="#c0c0c0"/>
<rect x="1153" y="609" width="1" height="58" fill="#c0c0c0"/>
<rect x="1161" y="610" width="1" height="57" fill="#c0c0c0"/>
<rect x="1169" y="611" width="1" height="56" fill="#c0c0c0"/>
<rect x="1177" y="615" width="1" height="52" fill="#c0c0c0"/>
<rect x="1185" y="614" width="1" height="53" fill="#c0c0c0"/>
<rect x="1193" y="624" width="1" height="43" fill="#c0c0c0"/>
<rect x="1201" y="633" width="1" height="34" fill="#c0c0c0"/>
<rect x="1209" y="643" width="1" height="24" fill="#c0c0c0"/>
<rect x="1217" y="651" width="1" height="16" fill="#c0c0c0"/>
<rect x="1225" y="657" width="1" height="10" fill="#c0c0c0"/>
<rect x="1233" y="662" width="1" height="5" fill="#c0c0c0"/>
<rect x="1241" y="665" width="1" height="2" fill="#c0c0c0"/>
<rect x="1249" y="665" width="1" height="2" fill="#c0c0c0"/>
<rect x="1273" y="666" width="1" height="4" fill="#c0c0c0"/>
<rect x="1281" y="666" width="1" height="10" fill="#c0c0c0"/>
<rect x="1289" y="666" width="1" height="16" fill="#c0c0c0"/>
<rect x="1297" y="666" width="1" height="7" fill="#c0c0c0"/>
<rect x="1305" y="652" width="1" height="15" fill="#c0c0c0"/>
<rect x="1313" y="638" width="1" height="29" fill="#c0c0c0"/>
<rect x="1321" y="628" width="1" height="39" fill="#c0c0c0"/>
<rect x="1329" y="611" width="1" height="56" fill="#c0c0c0"/>
<rect x="1337" y="595" width="1" height="72" fill="#c0c0c0"/>
<polyline points="1.5,661.7 9.5,664.7 17.5,669.8 25.5,673.8 33.5,677.5 41.5,679.3 49.5,680.5 57.5,681.0 65.5,680.9 73.5,681.9 81.5,682.3 89.5,682.4 97.5,682.3 105.5,682.4 113.5,682.9 121.5,683.7 129.5,685.1 137.5,687.1 145.5,689.8 153.5,692.8 161.5,695.7 169.5,698.4 177.5,699.8 185.5,700.0 193.5,699.4 201.5,696.9 209.5,693.1 217.5,688.5 225.5,683.6 233.5,679.0 241.5,674.6 249.5,671.1 257.5,668.7 265.5,667.4 273.5,668.1 281.5,670.6 289.5,674.5 297.5,679.8 305.5,685.7 313.5,692.0 321.5,698.9 329.5,706.2 337.5,713.5 345.5,720.0 353.5,725.3 361.5,729.6 369.5,732.7 377.5,735.0 385.5,736.9 393.5,738.1 401.5,738.4 409.5,737.9 417.5,736.5 425.5,735.1 433.5,733.0 441.5,730.1 449.5,726.4 457.5,722.2 465.5,717.7 473.5,713.2 481.5,709.0 489.5,706.1 497.5,704.2 505.5,703.2 513.5,703.1 521.5,703.1 529.5,702.6 537.5,701.8 545.5,700.4 553.5,698.4 561.5,695.7 569.5,692.4 577.5,688.7 585.5,684.7 593.5,681.1 601.5,678.4 609.5,676.9 617.5,676.9 625.5,677.9 633.5,679.7 641.5,682.1 649.5,684.8 657.5,688.4 665.5,692.3 673.5,696.0 681.5,698.8 689.5,700.6 697.5,702.0 705.5,703.5 713.5,704.9 721.5,705.2 729.5,704.5 737.5,703.7 745.5,702.9 753.5,702.8 761.5,702.9 769.5,703.0 777.5,703.2 785.5,703.0 793.5,704.9 801.5,708.4 809.5,712.8 817.5,718.0 825.5,723.6 833.5,729.5 841.5,735.5 849.5,740.6 857.5,745.6 865.5,749.1 873.5,751.5 881.5,753.4 889.5,754.3 897.5,754.5 905.5,754.3 913.5,753.7 921.5,752.2 929.5,750.0 937.5,747.3 945.5,743.7 953.5,739.1 961.5,733.4 969.5,726.8 977.5,719.5 985.5,712.3 993.5,705.3 1001.5,698.9 1009.5,693.1 1017.5,688.3 1025.5,684.2 1033.5,681.8 1041.5,681.2 1049.5,680.8 1057.5,679.4 1065.5,678.3 1073.5,676.8 1081.5,674.5 1089.5,671.4 1097.5,667.6 1105.5,663.0 1113.5,656.7 1121.5,650.2 1129.5,644.7 1137.5,639.2 1145.5,633.9 1153.5,628.7 1161.5,624.4 1169.5,620.5 1177.5,617.4 1185.5,615.3 1193.5,615.2 1201.5,616.4 1209.5,619.4 1217.5,623.5 1225.5,628.8 1233.5,634.6 1241.5,640.7 1249.5,646.5 1257.5,652.2 1265.5,656.9 1273.5,661.0 1281.5,664.6 1289.5,668.0 1297.5,669.7 1305.5,668.6 1313.5,665.5 1321.5,661.2 1329.5,655.1 1337.5,647.1" fill="none" stroke="#ff0000" stroke-width="1" stroke-dasharray="3 3"/>
<path d="M1 802.5H1629" stroke="#c0c0c0" stroke-width="1" stroke-dasharray="3 3"/>
<path d="M1 849.5H1629" stroke="#c0c0c0" stroke-width="1" stroke-dasharray="3 3"/>
<path d="M1 905.5H1629" stroke="#c0c0c0" stroke-width="1" stroke-dasharray="3 3"/>
<polyline points="1.5,844.7 9.5,856.0 17.5,860.2 25.5,859.2 33.5,856.5 41.5,857.2 49.5,851.5 57.5,856.5 65.5,853.5 73.5,852.2 81.5,850.2 89.5,857.2 97.5,858.5 105.5,865.3 113.5,863.5 121.5,864.8 129.5,869.8 137.5,874.0 145.5,875.5 153.5,868.5 161.5,869.8 169.5,866.0 177.5,846.0 185.5,844.2 193.5,848.0 201.5,830.2 209.5,832.2 217.5,841.7 225.5,846.5 233.5,855.2 241.5,855.2 249.5,855.2 257.5,855.2 265.5,862.3 273.5,869.8 281.5,876.8 289.5,881.8 297.5,887.3 305.5,886.1 313.5,886.1 321.5,888.1 329.5,892.3 337.5,892.3 345.5,879.0 353.5,877.3 361.5,881.5 369.5,884.3 377.5,887.3 385.5,889.3 393.5,881.5 401.5,880.3 409.5,873.5 417.5,863.5 425.5,866.5 433.5,864.3 441.5,853.5 449.5,857.2 457.5,863.5 465.5,855.5 473.5,861.5 481.5,863.5 489.5,877.8 497.5,874.3 505.5,881.5 513.5,875.3 521.5,856.7 529.5,847.2 537.5,843.5 545.5,841.4 553.5,843.5 561.5,852.2 569.5,851.5 577.5,855.2 585.5,849.7 593.5,851.5 601.5,861.0 609.5,867.3 617.5,869.3 625.5,869.3 633.5,877.3 641.5,877.3 649.5,878.5 657.5,885.3 665.5,872.8 673.5,869.3 681.5,857.2 689.5,857.2 697.5,866.8 705.5,879.3 713.5,874.8 721.5,854.7 729.5,860.2 737.5,858.0 745.5,863.0 753.5,867.3 761.5,859.0 769.5,863.0 777.5,871.0 785.5,872.3 793.5,884.8 801.5,889.3 809.5,889.3 817.5,891.6 825.5,884.3 833.5,885.6 841.5,884.3 849.5,881.5 857.5,883.3 865.5,883.3 873.5,890.3 881.5,893.3 889.5,880.3 897.5,881.5 905.5,882.3 913.5,873.5 921.5,862.8 929.5,861.5 937.5,865.3 945.5,858.5 953.5,863.0 961.5,843.0 969.5,838.4 977.5,843.5 985.5,849.2 993.5,841.4 1001.5,850.5 1009.5,855.2 1017.5,859.2 1025.5,858.5 1033.5,869.3 1041.5,864.8 1049.5,843.0 1057.5,835.4 1065.5,840.2 1073.5,841.4 1081.5,834.7 1089.5,833.4 1097.5,837.2 1105.5,838.4 1113.5,823.4 1121.5,821.4 1129.5,833.2 1137.5,826.7 1145.5,831.4 1153.5,826.7 1161.5,833.4 1169.5,834.7 1177.5,839.2 1185.5,834.7 1193.5,850.2 1201.5,853.4 1209.5,858.0 1217.5,858.0 1225.5,858.0 1233.5,858.0 1241.5,856.3 1249.5,850.0 1257.5,851.5 1265.5,851.5 1273.5,858.6 1281.5,868.5 1289.5,869.4 1297.5,837.3 1305.5,819.7 1313.5,823.9 1321.5,826.5 1329.5,816.0 1337.5,813.1" fill="none" stroke="#1e90ff" stroke-width="1"/>
<rect x="0" y="29" width="1630" height="1" fill="#000"/>
<rect x="0" y="29" width="1" height="901" fill="#000"/>
<rect x="1629" y="29" width="1" height="901" fill="#000"/>
<rect x="0" y="582" width="1630" height="1" fill="#000"/>
<rect x="0" y="584" width="1630" height="1" fill="#000"/>
<rect x="0" y="767" width="1630" height="1" fill="#000"/>
<rect x="0" y="769" width="1630" height="1" fill="#000"/>
<rect x="0" y="929" width="1630" height="1" fill="#000"/>
<rect x="0" y="583" width="1674" height="1" fill="#fff"/>
<rect x="0" y="768" width="1674" height="1" fill="#fff"/>
<rect x="1630" y="51" width="2" height="1" fill="#000"/>
<rect x="1630" y="84" width="2" height="1" fill="#000"/>
<rect x="1630" y="117" width="2" height="1" fill="#000"/>
<rect x="1630" y="150" width="2" height="1" fill="#000"/>
<rect x="1630" y="183" width="2" height="1" fill="#000"/>
<rect x="1630" y="216" width="2" height="1" fill="#000"/>
<rect x="1630" y="249" width="2" height="1" fill="#000"/>
<rect x="1630" y="282" width="2" height="1" fill="#000"/>
<rect x="1630" y="315" width="2" height="1" fill="#000"/>
<rect x="1630" y="348" width="2" height="1" fill="#000"/>
<rect x="1630" y="381" width="2" height="1" fill="#000"/>
<rect x="1630" y="414" width="2" height="1" fill="#000"/>
<rect x="1630" y="447" width="2" height="1" fill="#000"/>
<rect x="1630" y="480" width="2" height="1" fill="#000"/>
<rect x="1630" y="513" width="2" height="1" fill="#000"/>
<rect x="1630" y="546" width="2" height="1" fill="#000"/>
<rect x="1630" y="579" width="2" height="1" fill="#000"/>
<rect x="1630" y="586" width="2" height="1" fill="#000"/>
<rect x="1630" y="666" width="1" height="1" fill="#000"/>
<rect x="1630" y="766" width="2" height="1" fill="#000"/>
<rect x="1630" y="771" width="2" height="1" fill="#000"/>
<rect x="1630" y="928" width="2" height="1" fill="#000"/>
<rect x="1" y="930" width="1" height="3" fill="#000"/>
<rect x="65" y="930" width="1" height="3" fill="#000"/>
<rect x="129" y="930" width="1" height="3" fill="#000"/>
<rect x="193" y="930" width="1" height="3" fill="#000"/>
<rect x="257" y="930" width="1" height="3" fill="#000"/>
<rect x="321" y="930" width="1" height="3" fill="#000"/>
<rect x="385" y="930" width="1" height="3" fill="#000"/>
<rect x="449" y="930" width="1" height="3" fill="#000"/>
<rect x="513" y="930" width="1" height="3" fill="#000"/>
<rect x="577" y="930" width="1" height="3" fill="#000"/>
<rect x="641" y="930" width="1" height="3" fill="#000"/>
<rect x="705" y="930" width="1" height="3" fill="#000"/>
<rect x="769" y="930" width="1" height="3" fill="#000"/>
<rect x="833" y="930" width="1" height="3" fill="#000"/>
<rect x="897" y="930" width="1" height="3" fill="#000"/>
<rect x="961" y="930" width="1" height="3" fill="#000"/>
<rect x="1025" y="930" width="1" height="3" fill="#000"/>
<rect x="1089" y="930" width="1" height="3" fill="#000"/>
<rect x="1153" y="930" width="1" height="3" fill="#000"/>
<rect x="1217" y="930" width="1" height="3" fill="#000"/>
<rect x="1281" y="930" width="1" height="3" fill="#000"/>
<path d="M1345 30H1357L1351 36Z" fill="#c0c0c0" shape-rendering="auto"/>
</svg>
<svg class="abs" style="left:1395.5px;top:287.4px" width="190" height="60" viewBox="-6 -40 190 60"><g transform="translate(1.0,12.7) scale(1.006,1.045)"><text x="4" y="1" font-family="'Liberation Serif','Noto Serif CJK SC',serif" font-size="32" fill="#082808">多空转折点</text><text x="3" y="0" font-family="'Liberation Serif','Noto Serif CJK SC',serif" font-size="32" fill="#00ff00">多空转折点</text></g></svg>
<div class="abs" style="left:1503px;top:219.7px;width:96px;height:31px;line-height:31px;font-size:26.67px;color:#ff0000;white-space:nowrap">1.27651</div>
<div class="ax" style="top:45.5px">1.32080</div>
<div class="ax" style="top:78.5px">1.31280</div>
<div class="ax" style="top:111.5px">1.30480</div>
<div class="ax" style="top:144.5px">1.29680</div>
<div class="ax" style="top:177.5px">1.28880</div>
<div class="ax" style="top:210.5px">1.28080</div>
<div class="ax" style="top:243.5px">1.27280</div>
<div class="ax" style="top:276.5px">1.26500</div>
<div class="ax" style="top:309.5px">1.25700</div>
<div class="ax" style="top:342.5px">1.24900</div>
<div class="ax" style="top:375.5px">1.24100</div>
<div class="ax" style="top:408.5px">1.23300</div>
<div class="ax" style="top:441.5px">1.22500</div>
<div class="ax" style="top:474.5px">1.21700</div>
<div class="ax" style="top:507.5px">1.20920</div>
<div class="ax" style="top:540.5px">1.20120</div>
<div class="ax" style="top:573.5px">1.19320</div>
<div class="ax" style="top:585.5px;left:1633px">0.010419</div>
<div class="ax" style="top:660.5px;left:1633px">0.00</div>
<div class="ax" style="top:754.5px;left:1633px">-0.013027</div>
<div class="ax" style="top:770.5px;left:1633px">100</div>
<div class="ax" style="top:796.5px;left:1633px">80</div>
<div class="ax" style="top:843.5px;left:1633px">50</div>
<div class="ax" style="top:899.5px;left:1633px">15</div>
<div class="ax" style="top:916.5px;left:1633px">0</div>
<div class="tag" style="top:133px;background:#ff4500">1.29943</div>
<div class="tag" style="top:171px;background:#ff4500">1.29023</div>
<div class="tag" style="top:205px;background:#000">1.28244</div>
<div class="tag" style="top:228px;background:#32cd32">1.27651</div>
<div class="tag" style="top:257px;background:#0000ff">1.26952</div>
<div class="tag" style="top:292px;background:#0000ff">1.26108</div>
<div class="t" style="left:0px;top:933px">3 Apr 2019</div>
<div class="t" style="left:64px;top:933px">12 Apr 2019</div>
<div class="t" style="left:128px;top:933px">23 Apr 2019</div>
<div class="t" style="left:192px;top:933px">2 May 2019</div>
<div class="t" style="left:256px;top:933px">12 May 2019</div>
<div class="t" style="left:320px;top:933px">21 May 2019</div>
<div class="t" style="left:384px;top:933px">30 May 2019</div>
<div class="t" style="left:448px;top:933px">9 Jun 2019</div>
<div class="t" style="left:512px;top:933px">18 Jun 2019</div>
<div class="t" style="left:576px;top:933px">27 Jun 2019</div>
<div class="t" style="left:640px;top:933px">7 Jul 2019</div>
<div class="t" style="left:704px;top:933px">16 Jul 2019</div>
<div class="t" style="left:768px;top:933px">25 Jul 2019</div>
<div class="t" style="left:832px;top:933px">4 Aug 2019</div>
<div class="t" style="left:896px;top:933px">13 Aug 2019</div>
<div class="t" style="left:960px;top:933px">22 Aug 2019</div>
<div class="t" style="left:1024px;top:933px">1 Sep 2019</div>
<div class="t" style="left:1088px;top:933px">10 Sep 2019</div>
<div class="t" style="left:1152px;top:933px">19 Sep 2019</div>
<div class="t" style="left:1216px;top:933px">29 Sep 2019</div>
<div class="t" style="left:1280px;top:933px">8 Oct 2019</div>
<svg class="abs" style="left:3px;top:35px" width="10" height="7"><path d="M1 5.2H8L4.5 1Z" fill="#000"/></svg>
<div class="t" style="left:16px;top:32px">GBPUSD-,Daily&nbsp; 1.27581 1.28738 1.26558 1.28244</div>
<div class="t" style="left:5px;top:588px">MACD(12,26,9) 0.009353 0.002497</div>
<div class="t" style="left:5px;top:773px">RSI(14) 73.3155</div>
<div class="abs" style="left:2px;top:47px;width:223px;height:68px;background:#fff"></div>
<div class="abs" style="left:4px;top:49px;width:219px;height:64px;">
<div class="abs" style="left:0;top:0;width:52px;height:24px;background:linear-gradient(#5858f4,#4242e2);box-shadow:inset 1px 1px 0 #3030c8,inset -1px 0 0 #3030c8"></div>
<div class="abs" style="left:167px;top:0;width:52px;height:24px;background:linear-gradient(#5858f4,#4242e2);box-shadow:inset 1px 1px 0 #3030c8,inset -1px 0 0 #3030c8"></div>
<div class="abs" style="left:0;top:24px;width:109px;height:40px;background:linear-gradient(#3a3ae0,#1616c2 55%,#0303a6);box-shadow:inset 0 0 0 1px rgba(0,0,160,0.55)"></div>
<div class="abs" style="left:111px;top:24px;width:108px;height:40px;background:linear-gradient(#3a3ae0,#1616c2 55%,#0303a6);box-shadow:inset 0 0 0 1px rgba(0,0,160,0.55)"></div>
<div class="abs" style="left:4px;top:24px;width:44px;height:1px;background:#a4a4ff"></div>
<div class="abs" style="left:171px;top:24px;width:44px;height:1px;background:#a4a4ff"></div>
<div class="abs" style="left:0;top:5px;width:52px;text-align:center;color:#fff;font-size:12.5px;line-height:14px"><span style="display:inline-block;transform:scaleX(0.9)">SELL</span></div>
<div class="abs" style="left:167px;top:5px;width:52px;text-align:center;color:#fff;font-size:12.5px;line-height:14px"><span style="display:inline-block;transform:scaleX(0.95)">BUY</span></div>
<div class="abs" style="left:54px;top:0;width:111px;height:22px;background:#fff;border:1px solid #adadad;box-sizing:border-box"></div>
<div class="abs" style="left:55px;top:1px;width:20px;height:20px;background:linear-gradient(#efefef,#e2e2e2);border-right:1px solid #adadad"></div>
<div class="abs" style="left:143px;top:1px;width:20px;height:20px;background:linear-gradient(#efefef,#e2e2e2);border-left:1px solid #adadad"></div>
<div class="abs" style="left:76px;top:3px;width:64px;text-align:right;color:#000;font-size:12.5px;line-height:15px">1.00</div>
<svg class="abs" style="left:54px;top:1px" width="112" height="20"><path d="M7.8 8H13.4L10.6 11.2Z" fill="#000"/><path d="M97.4 11.2H103L100.2 8Z" fill="#000"/></svg>
<div class="abs" style="left:20px;top:43px;color:#fff;font-size:12.5px;font-weight:bold;line-height:14px">1.28</div>
<div class="abs" style="left:47px;top:24px;color:#fff;font-size:33px;line-height:38px">24</div>
<div class="abs" style="left:87px;top:28px;color:#fff;font-size:12.5px;font-weight:bold;line-height:14px">4</div>
<div class="abs" style="left:130px;top:43px;color:#fff;font-size:12.5px;font-weight:bold;line-height:14px">1.28</div>
<div class="abs" style="left:157px;top:24px;color:#fff;font-size:33px;line-height:38px">37</div>
<div class="abs" style="left:198px;top:28px;color:#fff;font-size:12.5px;font-weight:bold;line-height:14px">3</div>
</div>
</body></html>
